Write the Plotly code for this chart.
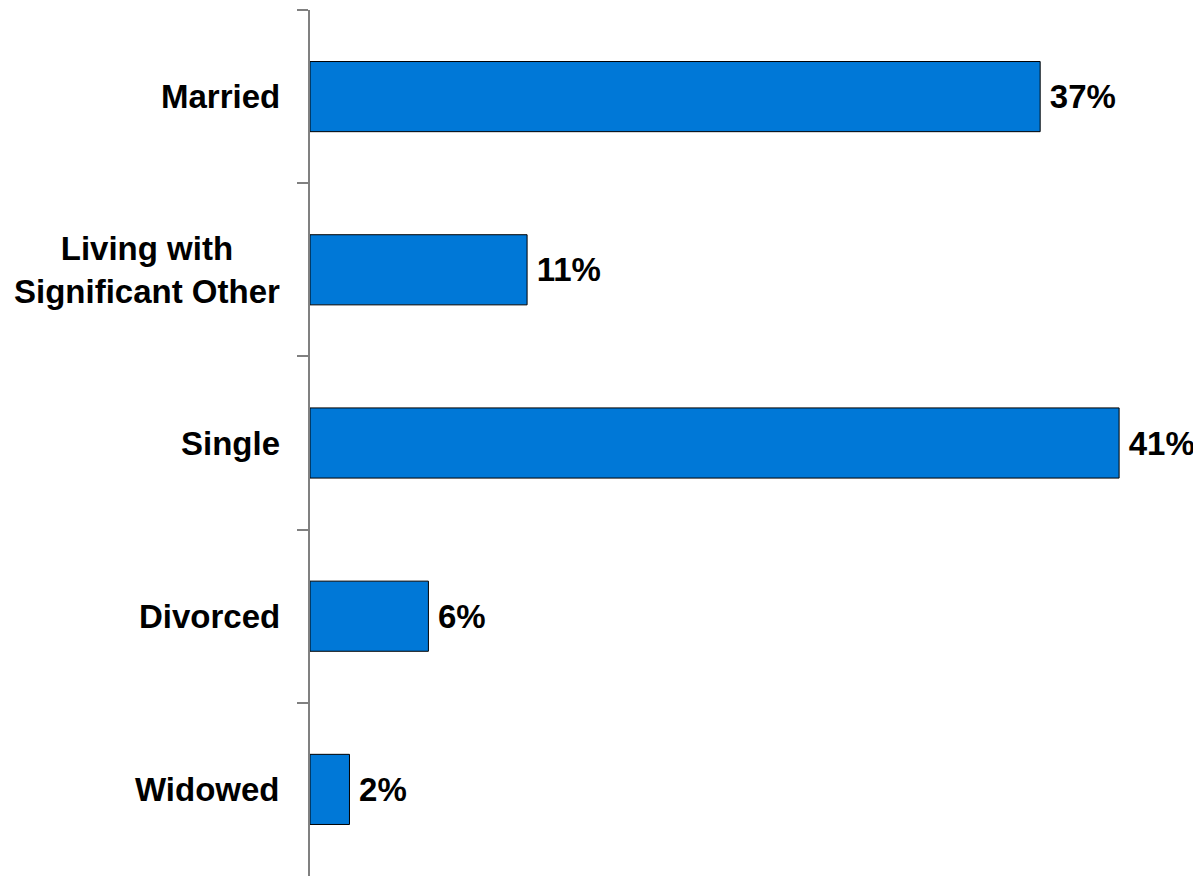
import plotly.graph_objects as go

categories = ["Married", "Living with<br>Significant Other", "Single", "Divorced", "Widowed"]
values = [37, 11, 41, 6, 2]

FONT = "Arial, 'Liberation Sans', sans-serif"

fig = go.Figure()
fig.add_trace(go.Bar(
    x=values,
    y=categories,
    orientation="h",
    width=0.405,
    marker=dict(color="#0078D7", line=dict(color="#000000", width=1)),
    text=[f"<b>\u2009{v}%</b>" for v in values],
    textposition="outside",
    constraintext="none",
    cliponaxis=False,
    outsidetextfont=dict(family=FONT, size=33, color="#000000"),
    hoverinfo="skip",
))

for c in categories:
    fig.add_annotation(
        x=0, xref="paper", y=c, yref="y",
        text=f"<b>{c}</b>", showarrow=False,
        xanchor="right", yanchor="middle", align="center",
        xshift=-28,
        font=dict(family=FONT, size=33, color="#000000"),
    )

fig.update_layout(
    width=1193, height=868,
    margin=dict(l=302, r=0, t=2, b=0),
    paper_bgcolor="white", plot_bgcolor="white",
    showlegend=False,
)
fig.update_xaxes(range=[0, 45.15], visible=False, showgrid=False, zeroline=False)
fig.update_yaxes(
    type="category",
    categoryorder="array", categoryarray=categories,
    autorange="reversed",
    showticklabels=False,
    showline=True, linecolor="#808080", linewidth=2,
    ticks="outside", tickson="boundaries", ticklen=11, tickcolor="#808080", tickwidth=2,
    showgrid=False, zeroline=False,
)

fig.write_html("out.html")
